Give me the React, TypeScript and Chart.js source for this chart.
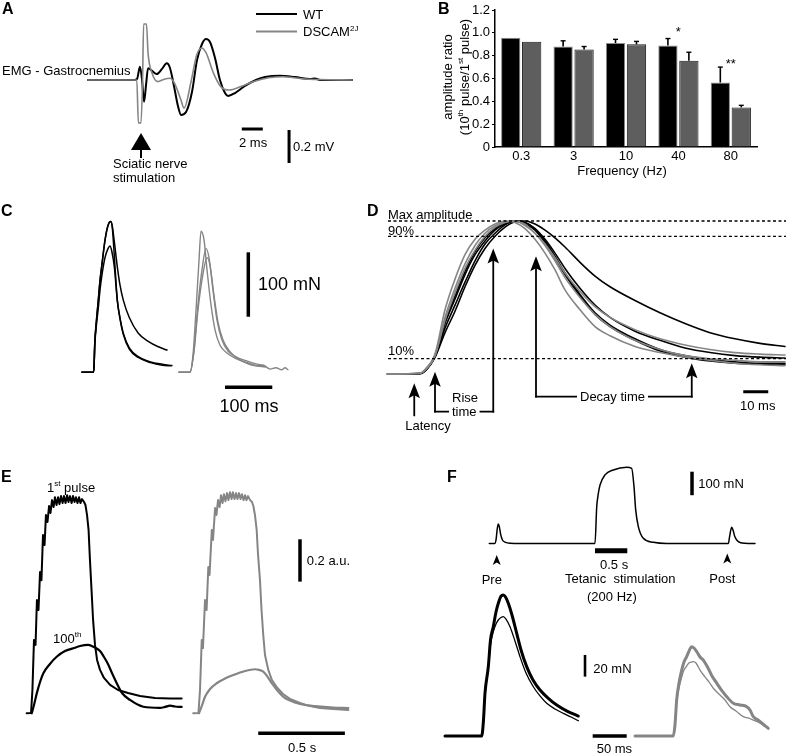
import React, { useEffect, useRef } from 'react';
import { Chart, registerables } from 'chart.js';

Chart.register(...registerables);

const FONT = '"Liberation Sans", Arial, Helvetica, sans-serif';
const BLACK = '#000000';
const GRAY = '#858585';

// ---------------- Panel A : EMG (time in ms, amplitude in mV) ----------------
const emgTimeWT = [-5.05, -0.67, -0.38, -0.19, -0.10, 0.10, 0.29, 0.48, 0.67, 1.05, 1.50, 2.00, 2.45, 2.76, 3.14, 3.52, 3.81, 4.29, 4.86, 5.33, 5.81, 6.19, 6.57, 7.05, 7.52, 8.00, 8.29, 8.95, 9.90, 10.95, 11.81, 13.24, 14.67, 16.10, 16.57, 17.05, 20.10];
const emgWT = [0, 0, 0.006, 0.061, 0.081, 0, -0.132, -0.030, 0.071, 0.055, 0.036, 0.067, 0.101, 0.073, -0.036, -0.158, -0.212, -0.194, -0.071, 0.12, 0.218, 0.248, 0.230, 0.133, 0, -0.079, -0.097, -0.079, -0.036, 0, 0.018, 0.026, 0.018, 0.006, 0.009, 0, 0];
const emgTimeDS = [-5.05, -0.40, -0.25, 0.00, 0.15, 0.25, 0.52, 0.67, 1.05, 1.60, 2.20, 2.76, 3.20, 3.80, 4.10, 4.80, 5.30, 5.78, 6.20, 6.90, 7.60, 8.40, 9.50, 10.67, 12.29, 13.50, 15.30, 17.00, 20.10];
const emgDS = [0, 0, -0.26, -0.26, 0, 0.339, 0.339, 0.164, 0.042, -0.010, 0.005, 0.011, -0.020, -0.120, -0.170, 0.0, 0.150, 0.194, 0.164, 0.042, -0.040, -0.061, -0.040, -0.010, 0.015, 0.020, 0.008, 0.003, 0];
const stimTimeMs = 0;

// ---------------- Panel B : amplitude ratio ----------------
const frequencies = ['0.3', '3', '10', '40', '80'];
const ratioWT = [0.957, 0.88, 0.91, 0.89, 0.565];
const ratioWTErr = [0, 0.05, 0.033, 0.06, 0.135];
const ratioDS = [0.922, 0.855, 0.90, 0.755, 0.347];
const ratioDSErr = [0, 0.025, 0.025, 0.075, 0.018];
const sigLabels = ['', '', '', '*', '**'];
const sigLevel = [0, 0, 0, 1.025, 0.745];
const ratioTicks = [0, 0.2, 0.4, 0.6, 0.8, 1.0, 1.2];

// ---------------- Panel C : twitches (ms, mN) ----------------
const twitchTimeWT1 = [0, 23.9, 25.5, 27, 30.5, 34.5, 38, 41.6, 48.6, 55, 60.7, 64, 68, 74.6, 80, 87.3, 100, 119, 140, 160, 179.7];
const twitchWT1 = [0, 0, 10, 45, 80, 112, 142, 164, 205, 228, 234, 227, 205, 164, 137, 112, 85, 60.6, 48, 40, 34.6];
const twitchTimeWT2 = [0, 23.9, 25.5, 27, 30.5, 34.5, 38, 41.6, 48.6, 55, 60.7, 64, 69.8, 74.6, 80, 87.3, 100, 119, 145, 170, 190];
const twitchWT2 = [0, 0, 10, 45, 80, 112, 142, 164, 205, 228, 234, 225, 164, 112, 86, 60.6, 38, 24.3, 16, 12.5, 10.5];
const twitchTimeWT3 = [0, 23.9, 25.5, 27, 30.5, 34.5, 38, 41.6, 48.6, 55, 59.2, 63, 68.3, 74.6, 80, 87.3, 100, 119, 145, 170, 188];
const twitchWT3 = [0, 0, 9, 41, 73, 100, 127, 148, 178, 192, 196, 188, 164, 112, 84, 59, 36, 23, 15, 11, 10];
const twitchTimeDS1 = [205, 228.3, 234.7, 241, 247.4, 251.6, 257.9, 264.3, 272.7, 281.2, 291.8, 306.6, 323.5, 344.6, 365.8, 386.9];
const twitchDS1 = [0, 0, 27, 96, 174, 219, 206, 159, 105, 66, 42, 30, 22, 16, 11, 8];
const twitchTimeDS2 = [205, 228.3, 236.8, 245.2, 253.7, 262.2, 268.5, 276.9, 285.4, 296, 308.7, 325.6, 346.7, 367.9, 386.9];
const twitchDS2 = [0, 0, 35, 105, 159, 192, 178, 128, 81, 50, 33, 24, 18, 13, 10];
const twitchTimeDS3 = [205, 228.3, 236.8, 245.2, 255.8, 264.3, 270.6, 279.1, 287.5, 298.1, 312.9, 329.8, 351, 367.9, 382.7, 397.5, 410.1, 422.8, 429.2, 435.5];
const twitchDS3 = [0, 0, 32, 97, 153, 178, 166, 119, 78, 50, 32, 21, 13, 10, 11, 5, 7, 4, 7, 4];

// ---------------- Panel D : normalised twitches (ms, % of max) ----------------
const normTime = [1, 14, 16, 20, 24, 28, 32, 36, 40, 44, 48, 52, 56, 60, 64, 68, 72, 78, 84, 90, 100, 110, 120, 130, 140, 150, 160];
const normWT1 = [0, 0.3, 2, 11, 27, 41, 57, 71, 82, 90, 96, 99.5, 100, 98, 94, 89, 83, 73, 64, 57, 48, 40, 33, 27, 23, 20, 18];
const normWT2 = [0, 0.3, 2, 12, 33, 49, 65, 78, 87, 94, 98, 100, 99, 95, 88, 79, 69, 56, 45, 37, 28, 22, 17, 14, 12, 11, 10.5];
const normWT3 = [0, 0.3, 2, 11, 30, 45, 60, 74, 85, 92, 97.5, 100, 99, 95, 87, 77, 66, 52, 40, 32, 23, 16, 12, 9.5, 8, 7, 7];
const normWT4 = [0, 0.3, 2, 12, 34, 51, 67, 80, 89, 95, 99, 100, 98, 94, 86, 76, 65, 51, 39, 31, 22, 15, 11, 8.5, 7, 6.5, 6];
const normDS1 = [0, 0.5, 3, 13, 42, 62, 78, 88, 94, 98, 100, 99, 95, 88, 79, 68, 55, 42, 31, 25, 18, 14, 11, 9, 7, 6, 5.5];
const normDS2 = [0, 0.5, 2.5, 12, 37, 56, 72, 84, 92, 97, 99.5, 100, 97, 92, 85, 76, 66, 54, 44, 37, 29, 23, 19, 16, 14, 13, 12.4];
const normDS3 = [0, 0.5, 2.5, 12, 35, 53, 69, 81, 90, 96, 99, 100, 98, 92, 84, 74, 63, 50, 39, 31, 22, 16, 12, 10, 9, 8, 8];
const normLevels = [100, 90, 10];
const normArrowTimes = [11.7, 20, 43.3, 60.4, 122.7];
const normArrowTips = [-6, 1.5, 82, 77, 7];

// ---------------- Panel E : tetanic fatigue (s, a.u.) ----------------
const tetTimeWT1 = [-0.019, 0.006, 0.014, 0.023, 0.032, 0.040, 0.049, 0.058, 0.066, 0.075, 0.084, 0.092, 0.101, 0.110, 0.118, 0.127, 0.136, 0.144, 0.153, 0.162, 0.170, 0.179, 0.188, 0.196, 0.205, 0.214, 0.222, 0.231, 0.240, 0.248, 0.257, 0.265, 0.274, 0.283, 0.291, 0.300, 0.312, 0.320, 0.329, 0.338, 0.346, 0.355, 0.364, 0.375, 0.387, 0.404, 0.427, 0.462, 0.508, 0.566, 0.635, 0.721, 0.808, 0.875];
const tetWT1 = [0, 0.001, 0.110, 0.346, 0.323, 0.535, 0.488, 0.667, 0.629, 0.842, 0.795, 0.937, 0.904, 0.979, 0.946, 1.007, 0.974, 1.021, 0.984, 1.021, 0.988, 1.026, 0.993, 1.026, 0.993, 1.030, 0.998, 1.026, 0.993, 1.026, 0.998, 1.021, 0.993, 1.021, 0.993, 1.012, 0.998, 0.984, 0.937, 0.866, 0.724, 0.583, 0.441, 0.323, 0.252, 0.205, 0.167, 0.134, 0.110, 0.096, 0.082, 0.072, 0.070, 0.070];
const tetTimeWT100 = [0.010, 0.023, 0.039, 0.058, 0.077, 0.115, 0.154, 0.202, 0.250, 0.289, 0.336, 0.369, 0.404, 0.427, 0.450, 0.473, 0.500, 0.531, 0.577, 0.654, 0.750, 0.779, 0.808, 0.837, 0.875];
const tetWT100 = [0, 0.039, 0.094, 0.148, 0.189, 0.233, 0.267, 0.294, 0.307, 0.318, 0.323, 0.313, 0.294, 0.266, 0.233, 0.190, 0.143, 0.096, 0.063, 0.031, 0.026, 0.030, 0.036, 0.032, 0.030];
const tetTimeDS1 = [0.942, 0.972, 0.981, 0.991, 0.998, 1.010, 1.019, 1.029, 1.036, 1.049, 1.056, 1.068, 1.076, 1.085, 1.094, 1.102, 1.111, 1.119, 1.128, 1.137, 1.145, 1.154, 1.163, 1.171, 1.180, 1.189, 1.197, 1.206, 1.215, 1.223, 1.232, 1.241, 1.249, 1.258, 1.270, 1.281, 1.289, 1.298, 1.308, 1.316, 1.327, 1.336, 1.346, 1.356, 1.375, 1.396, 1.424, 1.460, 1.500, 1.558, 1.616, 1.673, 1.750, 1.837];
const tetDS1 = [0, 0.001, 0.110, 0.346, 0.308, 0.535, 0.488, 0.691, 0.653, 0.866, 0.819, 0.970, 0.937, 1.007, 0.974, 1.030, 0.993, 1.035, 1.002, 1.040, 1.007, 1.044, 1.012, 1.044, 1.012, 1.040, 1.012, 1.040, 1.012, 1.035, 1.007, 1.030, 1.007, 1.026, 1.007, 0.998, 0.979, 0.937, 0.866, 0.748, 0.630, 0.488, 0.370, 0.275, 0.205, 0.157, 0.124, 0.091, 0.068, 0.049, 0.034, 0.025, 0.020, 0.016];
const tetTimeDS100 = [0.975, 0.993, 1.010, 1.039, 1.077, 1.125, 1.173, 1.241, 1.298, 1.321, 1.346, 1.368, 1.395, 1.425, 1.462, 1.500, 1.558, 1.645, 1.750, 1.837];
const tetDS100 = [0, 0.039, 0.078, 0.115, 0.142, 0.164, 0.181, 0.200, 0.208, 0.205, 0.197, 0.176, 0.142, 0.110, 0.078, 0.060, 0.044, 0.034, 0.027, 0.025];

// ---------------- Panel F : post-tetanic potentiation ----------------
const ptpTime = [0, 0.085, 0.104, 0.122, 0.139, 0.155, 0.175, 0.204, 0.243, 0.32, 0.5, 1.636, 1.663, 1.683, 1.714, 1.791, 1.920, 2.127, 2.204, 2.240, 2.266, 2.307, 2.384, 2.539, 2.746, 3.700, 3.723, 3.752, 3.775, 3.800, 3.854, 3.958, 4.113];
const ptpForce = [0, 0, 15, 60, 83, 72, 40, 15, 6, 1, 0, 0, 157, 205, 249, 292, 313, 324, 320, 242, 143, 72, 22, 5, 0, 0, 35, 69, 55, 30, 8, 1, 0];
const preStimS = 0.115;
const postStimS = 3.684;
const ptpTimeWTa = [0, 54.0, 56.6, 58.8, 63.7, 66.9, 71.0, 75.0, 78.4, 82.4, 85.7, 89.0, 93.1, 98.5, 105.4, 111.8, 120.1, 129.4, 139.7, 151.5, 164.3, 179.4, 196.0];
const ptpWTa = [0, 0, 14.7, 39.4, 63.9, 88.5, 100.7, 114.3, 122.3, 129.0, 130.0, 128.1, 122.3, 111.5, 94.7, 79.3, 63.9, 51.6, 42.4, 35.0, 28.6, 23.0, 18.4];
const ptpTimeWTb = [0, 54.0, 56.6, 58.8, 63.7, 66.9, 71.0, 75.0, 78.4, 82.4, 85.7, 89.7, 95.6, 102.9, 110.3, 119.1, 129.9, 139.7, 149.6, 161.8, 174.0, 185.3, 196.0];
const ptpWTb = [0, 0, 12.9, 37.8, 62.7, 83.9, 95.9, 103.2, 106.9, 109.2, 110.0, 107.8, 100.7, 87.6, 73.1, 58.1, 45.4, 36.9, 30.1, 24.9, 20.9, 17.5, 14.1];
const ptpTimeDSa = [279.4, 335.7, 338.2, 340.7, 344.1, 348.1, 351.5, 355.4, 358.8, 362.8, 366.2, 370.6, 375.0, 379.9, 386.8, 392.6, 399.6, 407.4, 414.7, 424.0, 433.8, 443.7, 448.5, 453.4, 460.3, 467.6, 475.4];
const ptpDSa = [0, 0, 10.1, 33.2, 48.8, 60.8, 68.2, 73.1, 78.3, 82.3, 81.1, 77.4, 72.8, 70.0, 62.7, 55.3, 48.8, 41.5, 35.9, 30.1, 28.6, 27.0, 24.0, 17.8, 14.7, 11.1, 7.1];
const ptpTimeDSb = [279.4, 335.7, 338.2, 340.7, 344.1, 348.1, 351.5, 355.4, 358.8, 362.8, 365.1, 369.1, 375.0, 382.4, 388.2, 394.6, 404.4, 411.8, 419.1, 427.9, 438.7, 445.6, 453.4, 460.3, 467.6, 475.4];
const ptpDSb = [0, 0, 9.2, 31.3, 44.2, 54.4, 60.8, 64.5, 67.3, 68.2, 68.5, 67.3, 60.8, 54.4, 49.8, 44.0, 37.8, 33.2, 27.0, 23.0, 17.8, 16.6, 14.7, 12.9, 10.1, 7.1];

// ---------------- layout (page pixels) and calibration ----------------
const A_BOX = { left: 0, top: 0, width: 380, height: 195 };
const B_BOX = { left: 380, top: 0, width: 406, height: 195 };
const C_BOX = { left: 0, top: 195, width: 380, height: 225 };
const D_BOX = { left: 380, top: 195, width: 406, height: 245 };
const E_BOX = { left: 0, top: 440, width: 380, height: 313 };
const F_BOX = { left: 380, top: 440, width: 406, height: 313 };

const A_MAP = { x0: 141, kx: 10.5, y0: 80, ky: 165 };
const C_MAP = { x0: 82, kx: 0.473, y0: 372.3, ky: 0.644 };
const D_MAP = { x0: 385, kx: 2.5, y0: 374, ky: 1.53 };
const E_MAP = { x0: 30, kx: 173.3, y0: 713.3, ky: 211.7 };
const FT_MAP = { x0: 489.3, kx: 64.6, y0: 543.5, ky: 0.235 };
const FB_MAP = { x0: 445, kx: 0.68, y0: 736, ky: 1.085 };

const rangeX = (b: any, m: any) => ({ min: (b.left - m.x0) / m.kx, max: (b.left + b.width - m.x0) / m.kx });
const rangeY = (b: any, m: any) => ({ min: (m.y0 - b.top - b.height) / m.ky, max: (m.y0 - b.top) / m.ky });
const hidden = (r: any, axis: string) => ({ type: 'linear', axis, display: false, min: r.min, max: r.max });

// ---------------- drawing helpers ----------------
function parseRich(s: string) {
  const out: { t: string; sup: boolean }[] = [];
  const re = /\^\{([^}]*)\}/g;
  let last = 0;
  let m: RegExpExecArray | null;
  while ((m = re.exec(s))) {
    if (m.index > last) out.push({ t: s.slice(last, m.index), sup: false });
    out.push({ t: m[1], sup: true });
    last = re.lastIndex;
  }
  if (last < s.length) out.push({ t: s.slice(last), sup: false });
  return out;
}

function drawText(ctx: CanvasRenderingContext2D, s: string, x: number, y: number, o: any = {}) {
  const size = o.size ?? 13;
  const supSize = size * 0.62;
  const font = (sz: number) => `${o.bold ? 'bold ' : ''}${sz}px ${FONT}`;
  const parts = parseRich(s);
  const widths = parts.map((p) => {
    ctx.font = font(p.sup ? supSize : size);
    return ctx.measureText(p.t).width;
  });
  const total = widths.reduce((a, b) => a + b, 0);
  ctx.save();
  ctx.translate(x, y);
  if (o.rotate) ctx.rotate(o.rotate);
  let cx = o.align === 'center' ? -total / 2 : o.align === 'right' ? -total : 0;
  if (o.bg) {
    ctx.fillStyle = o.bg;
    ctx.fillRect(cx - 3, -size * 0.62, total + 6, size * 1.24);
  }
  ctx.fillStyle = o.color ?? BLACK;
  ctx.textBaseline = 'alphabetic';
  ctx.textAlign = 'left';
  const base = size * 0.36;
  parts.forEach((p, i) => {
    ctx.font = font(p.sup ? supSize : size);
    ctx.fillText(p.t, cx, p.sup ? base - size * 0.4 : base);
    cx += widths[i];
  });
  ctx.restore();
}

function seg(ctx: CanvasRenderingContext2D, x1: number, y1: number, x2: number, y2: number, lw: number, color = BLACK, cap: CanvasLineCap = 'butt') {
  ctx.save();
  ctx.strokeStyle = color;
  ctx.lineWidth = lw;
  ctx.lineCap = cap;
  ctx.beginPath();
  ctx.moveTo(x1, y1);
  ctx.lineTo(x2, y2);
  ctx.stroke();
  ctx.restore();
}

function headUp(ctx: CanvasRenderingContext2D, x: number, tipY: number, w: number, h: number, notch: number) {
  ctx.save();
  ctx.fillStyle = BLACK;
  ctx.beginPath();
  ctx.moveTo(x, tipY);
  ctx.lineTo(x - w / 2, tipY + h);
  ctx.lineTo(x, tipY + h - notch);
  ctx.lineTo(x + w / 2, tipY + h);
  ctx.closePath();
  ctx.fill();
  ctx.restore();
}

function arrowUp(ctx: CanvasRenderingContext2D, x: number, tipY: number, bottomY: number) {
  seg(ctx, x, bottomY, x, tipY + 10, 1.8, BLACK, 'square');
  headUp(ctx, x, tipY, 11.5, 15, 3);
}

function trace(xs: number[], ys: number[], color: string, width: number, extra: any = {}) {
  return {
    data: xs.map((x, i) => ({ x, y: ys[i] })),
    borderColor: color,
    borderWidth: width,
    pointRadius: 0,
    fill: false,
    cubicInterpolationMode: 'monotone',
    borderJoinStyle: 'round',
    borderCapStyle: 'round',
    ...extra,
  };
}

function traceConfig(datasets: any[], scales: any, draw: (c: any) => void) {
  return {
    type: 'line',
    data: { datasets },
    options: {
      responsive: false,
      animation: false,
      devicePixelRatio: 1,
      events: [],
      layout: { padding: 0 },
      plugins: { legend: { display: false }, tooltip: { enabled: false } },
      scales,
    },
    plugins: [{ id: 'annotate', afterDatasetsDraw: draw }],
  };
}

// ---------------- panel configs ----------------
function configA() {
  const draw = (chart: any) => {
    const ctx = chart.ctx;
    const X = (v: number) => chart.scales.x.getPixelForValue(v) + A_BOX.left;
    const Y = (v: number) => chart.scales.y.getPixelForValue(v) + A_BOX.top;
    ctx.save();
    ctx.translate(-A_BOX.left, -A_BOX.top);
    drawText(ctx, 'A', 2, 8, { size: 16, bold: true });
    seg(ctx, 256, 14, 297, 14, 2, BLACK);
    seg(ctx, 256, 31.5, 297, 31.5, 2, GRAY);
    drawText(ctx, 'WT', 303, 14);
    drawText(ctx, 'DSCAM^{2J}', 303, 31.5);
    drawText(ctx, 'EMG - Gastrocnemius', 2, 70);
    const sx = X(stimTimeMs);
    headUp(ctx, sx, 133, 20, 17, 0);
    seg(ctx, sx, 149, sx, 158, 2);
    drawText(ctx, 'Sciatic nerve', 113, 163.5);
    drawText(ctx, 'stimulation', 113, 177);
    seg(ctx, X(9.6), Y(-0.297), X(9.6 + 2), Y(-0.297), 3);
    seg(ctx, X(14.1), Y(-0.303), X(14.1), Y(-0.303 - 0.2), 3);
    drawText(ctx, '2 ms', 239, 142.5);
    drawText(ctx, '0.2 mV', 293, 146.5);
    ctx.restore();
  };
  return traceConfig(
    [trace(emgTimeDS, emgDS, GRAY, 1.6), trace(emgTimeWT, emgWT, BLACK, 2)],
    { x: hidden(rangeX(A_BOX, A_MAP), 'x'), y: hidden(rangeY(A_BOX, A_MAP), 'y') },
    draw,
  );
}

function configB() {
  const draw = (chart: any) => {
    const ctx = chart.ctx;
    const L = B_BOX.left, T = B_BOX.top;
    const ys = chart.scales.y;
    ctx.save();
    ctx.translate(-L, -T);
    drawText(ctx, 'B', 438, 8, { size: 16, bold: true });
    const groups = [
      { means: ratioWT, errs: ratioWTErr },
      { means: ratioDS, errs: ratioDSErr },
    ];
    groups.forEach((g, di) => {
      const meta = chart.getDatasetMeta(di);
      meta.data.forEach((bar: any, j: number) => {
        const e = g.errs[j];
        if (!e) return;
        const x = bar.x + L;
        const y1 = ys.getPixelForValue(g.means[j]) + T;
        const y2 = ys.getPixelForValue(g.means[j] + e) + T;
        seg(ctx, x, y1, x, y2, 1.6);
        seg(ctx, x - 2.5, y2, x + 2.5, y2, 1.4);
      });
    });
    sigLabels.forEach((s, j) => {
      if (!s) return;
      const x = chart.scales.x.getPixelForValue(j) + L;
      drawText(ctx, s, x, ys.getPixelForValue(sigLevel[j]) + T + 1, { align: 'center' });
    });
    drawText(ctx, 'amplitude ratio', 447, 77, { rotate: -Math.PI / 2, align: 'center' });
    drawText(ctx, '(10^{th} pulse/1^{st} pulse)', 464, 77, { rotate: -Math.PI / 2, align: 'center' });
    drawText(ctx, 'Frequency (Hz)', 622, 170, { align: 'center' });
    ctx.restore();
  };
  const tickFont = { family: FONT, size: 13 };
  return {
    type: 'bar',
    data: {
      labels: frequencies,
      datasets: [
        { label: 'WT', data: ratioWT, backgroundColor: '#000000', borderColor: '#8c8c8c', borderWidth: 1, categoryPercentage: 0.8, barPercentage: 0.92 },
        { label: 'DSCAM2J', data: ratioDS, backgroundColor: '#5e5e5e', borderColor: '#1c1c1c', borderWidth: 1, categoryPercentage: 0.8, barPercentage: 0.92 },
      ],
    },
    options: {
      responsive: false,
      animation: false,
      devicePixelRatio: 1,
      events: [],
      layout: { padding: { left: 0, right: 29, top: 10, bottom: 0 } },
      plugins: { legend: { display: false }, tooltip: { enabled: false } },
      scales: {
        x: {
          grid: { display: true, drawOnChartArea: false, drawTicks: false },
          border: { display: true, color: '#000', width: 1.5 },
          ticks: { font: tickFont, color: '#000', padding: 2 },
          afterFit: (s: any) => { s.height = 48; },
        },
        y: {
          min: 0,
          max: 1.2,
          grid: { display: true, drawOnChartArea: false, drawTicks: true, tickLength: 3, color: '#000', lineWidth: 1 },
          border: { display: true, color: '#000', width: 1.5 },
          ticks: { font: tickFont, color: '#000', padding: 2, callback: (v: any) => (Number(v) === 0 ? '0' : Number(v).toFixed(1)) },
          afterBuildTicks: (s: any) => { s.ticks = ratioTicks.map((v) => ({ value: v })); },
          afterFit: (s: any) => { s.width = 115; },
        },
      },
    },
    plugins: [{ id: 'bExtras', afterDatasetsDraw: draw }],
  };
}

function configC() {
  const draw = (chart: any) => {
    const ctx = chart.ctx;
    const X = (v: number) => chart.scales.x.getPixelForValue(v) + C_BOX.left;
    const Y = (v: number) => chart.scales.y.getPixelForValue(v) + C_BOX.top;
    ctx.save();
    ctx.translate(-C_BOX.left, -C_BOX.top);
    drawText(ctx, 'C', 1, 210, { size: 16, bold: true });
    drawText(ctx, 'D', 367, 210, { size: 16, bold: true });
    seg(ctx, X(351.6), Y(186.3), X(351.6), Y(86.3), 3.5);
    seg(ctx, X(302.3), Y(-23.3), X(402.3), Y(-23.3), 3.5);
    drawText(ctx, '100 mN', 258, 284, { size: 18 });
    drawText(ctx, '100 ms', 219.5, 406, { size: 18 });
    ctx.restore();
  };
  return traceConfig(
    [
      trace(twitchTimeWT1, twitchWT1, BLACK, 1.5),
      trace(twitchTimeWT2, twitchWT2, BLACK, 1.5),
      trace(twitchTimeWT3, twitchWT3, BLACK, 1.5),
      trace(twitchTimeDS1, twitchDS1, GRAY, 1.4),
      trace(twitchTimeDS2, twitchDS2, GRAY, 1.4),
      trace(twitchTimeDS3, twitchDS3, GRAY, 1.4),
    ],
    { x: hidden(rangeX(C_BOX, C_MAP), 'x'), y: hidden(rangeY(C_BOX, C_MAP), 'y') },
    draw,
  );
}

function configD() {
  const xr = rangeX(D_BOX, D_MAP);
  const draw = (chart: any) => {
    const ctx = chart.ctx;
    const X = (v: number) => chart.scales.x.getPixelForValue(v) + D_BOX.left;
    const Y = (v: number) => chart.scales.y.getPixelForValue(v) + D_BOX.top;
    ctx.save();
    ctx.translate(-D_BOX.left, -D_BOX.top);
    drawText(ctx, 'Max amplitude', 388, 214);
    drawText(ctx, '90%', 388, 230);
    drawText(ctx, '10%', 388, 350);
    const [tLat, tOn, tRise, tDec1, tDec2] = normArrowTimes;
    const [pLat, pOn, pRise, pDec1, pDec2] = normArrowTips;
    const riseY = Y(-24.6);
    const decayY = Y(-14.8);
    arrowUp(ctx, X(tLat), Y(pLat), Y(-27));
    arrowUp(ctx, X(tOn), Y(pOn), riseY);
    arrowUp(ctx, X(tRise), Y(pRise), riseY);
    seg(ctx, X(tOn), riseY, X(tRise), riseY, 1.8, BLACK, 'square');
    arrowUp(ctx, X(tDec1), Y(pDec1), decayY);
    arrowUp(ctx, X(tDec2), Y(pDec2), decayY);
    seg(ctx, X(tDec1), decayY, X(tDec2), decayY, 1.8, BLACK, 'square');
    drawText(ctx, 'Rise', 452, 397);
    drawText(ctx, 'time', 452, riseY, { bg: '#ffffff' });
    drawText(ctx, 'Decay time', 580, decayY, { bg: '#ffffff' });
    drawText(ctx, 'Latency', 428, 425, { align: 'center' });
    seg(ctx, X(143.3), Y(-11.6), X(153.3), Y(-11.6), 3);
    drawText(ctx, '10 ms', 740, 405);
    ctx.restore();
  };
  const dashed = normLevels.map((lv) =>
    trace([1.2, xr.max], [lv, lv], BLACK, 1.3, { borderDash: [3, 2.5], cubicInterpolationMode: 'default', borderCapStyle: 'butt' }),
  );
  return traceConfig(
    [
      ...dashed,
      trace(normTime, normDS1, GRAY, 1.6),
      trace(normTime, normDS2, GRAY, 1.6),
      trace(normTime, normDS3, GRAY, 1.6),
      trace(normTime, normWT1, BLACK, 1.6),
      trace(normTime, normWT2, BLACK, 1.6),
      trace(normTime, normWT3, BLACK, 1.6),
      trace(normTime, normWT4, BLACK, 1.6),
    ],
    { x: hidden(xr, 'x'), y: hidden(rangeY(D_BOX, D_MAP), 'y') },
    draw,
  );
}

function configE() {
  const draw = (chart: any) => {
    const ctx = chart.ctx;
    const X = (v: number) => chart.scales.x.getPixelForValue(v) + E_BOX.left;
    const Y = (v: number) => chart.scales.y.getPixelForValue(v) + E_BOX.top;
    ctx.save();
    ctx.translate(-E_BOX.left, -E_BOX.top);
    drawText(ctx, 'E', 1, 476, { size: 16, bold: true });
    drawText(ctx, '1^{st} pulse', 47, 487);
    drawText(ctx, '100^{th}', 53, 638);
    seg(ctx, X(1.558), Y(0.822), X(1.558), Y(0.622), 3.5);
    drawText(ctx, '0.2 a.u.', 306.7, 560);
    seg(ctx, X(1.317), Y(-0.0945), X(1.817), Y(-0.0945), 3.5);
    drawText(ctx, '0.5 s', 288, 747);
    ctx.restore();
  };
  const lin = { cubicInterpolationMode: 'default', tension: 0 };
  return traceConfig(
    [
      trace(tetTimeWT1, tetWT1, BLACK, 2, lin),
      trace(tetTimeWT100, tetWT100, BLACK, 2.2),
      trace(tetTimeDS1, tetDS1, GRAY, 2, lin),
      trace(tetTimeDS100, tetDS100, GRAY, 2.2),
    ],
    { x: hidden(rangeX(E_BOX, E_MAP), 'x'), y: hidden(rangeY(E_BOX, E_MAP), 'y') },
    draw,
  );
}

function configF() {
  const draw = (chart: any) => {
    const ctx = chart.ctx;
    const L = F_BOX.left, T = F_BOX.top;
    const X = (v: number) => chart.scales.xt.getPixelForValue(v) + L;
    const Y = (v: number) => chart.scales.yt.getPixelForValue(v) + T;
    const Xb = (v: number) => chart.scales.xb.getPixelForValue(v) + L;
    const Yb = (v: number) => chart.scales.yb.getPixelForValue(v) + T;
    ctx.save();
    ctx.translate(-L, -T);
    drawText(ctx, 'F', 447, 476, { size: 16, bold: true });
    headUp(ctx, X(preStimS), Y(0) + 11.5, 8, 10, 2.5);
    headUp(ctx, X(postStimS), Y(0) + 10, 8, 10, 2.5);
    drawText(ctx, 'Pre', 481.7, 579.3);
    drawText(ctx, 'Post', 709.3, 578.3);
    seg(ctx, X(1.636), Y(-30.6), X(1.636 + 0.5), Y(-30.6), 5);
    drawText(ctx, '0.5 s', 600, 564.5);
    drawText(ctx, 'Tetanic  stimulation', 565, 578.3);
    drawText(ctx, '(200 Hz)', 587, 596);
    seg(ctx, X(3.138), Y(305.5), X(3.138), Y(205.5), 3.5);
    drawText(ctx, '100 mN', 698.3, 483);
    seg(ctx, Xb(205.9), Yb(74.7), Xb(205.9), Yb(54.7), 2.6);
    drawText(ctx, '20 mN', 593.3, 668.3);
    seg(ctx, Xb(217.2), Yb(0), Xb(267.2), Yb(0), 3.5);
    drawText(ctx, '50 ms', 596.7, 748);
    ctx.restore();
  };
  const top = { xAxisID: 'xt', yAxisID: 'yt' };
  const bot = { xAxisID: 'xb', yAxisID: 'yb' };
  return traceConfig(
    [
      trace(ptpTime, ptpForce, BLACK, 1.5, top),
      trace(ptpTimeWTb, ptpWTb, BLACK, 1.3, bot),
      trace(ptpTimeWTa, ptpWTa, BLACK, 3, bot),
      trace(ptpTimeDSb, ptpDSb, GRAY, 1.3, bot),
      trace(ptpTimeDSa, ptpDSa, GRAY, 3, bot),
    ],
    {
      xt: hidden(rangeX(F_BOX, FT_MAP), 'x'),
      yt: hidden(rangeY(F_BOX, FT_MAP), 'y'),
      xb: hidden(rangeX(F_BOX, FB_MAP), 'x'),
      yb: hidden(rangeY(F_BOX, FB_MAP), 'y'),
    },
    draw,
  );
}

function Panel({ box, make }: { box: any; make: () => any }) {
  const ref = useRef<HTMLCanvasElement>(null);
  useEffect(() => {
    const chart = new Chart(ref.current as HTMLCanvasElement, make());
    return () => chart.destroy();
  }, []);
  return (
    <canvas
      ref={ref}
      width={box.width}
      height={box.height}
      style={{ position: 'absolute', left: box.left, top: box.top, width: box.width, height: box.height }}
    />
  );
}

export default function App() {
  return (
    <div style={{ position: 'absolute', left: 0, top: 0, width: 786, height: 753, background: '#ffffff', overflow: 'hidden' }}>
      <Panel box={A_BOX} make={configA} />
      <Panel box={B_BOX} make={configB} />
      <Panel box={C_BOX} make={configC} />
      <Panel box={D_BOX} make={configD} />
      <Panel box={E_BOX} make={configE} />
      <Panel box={F_BOX} make={configF} />
    </div>
  );
}
